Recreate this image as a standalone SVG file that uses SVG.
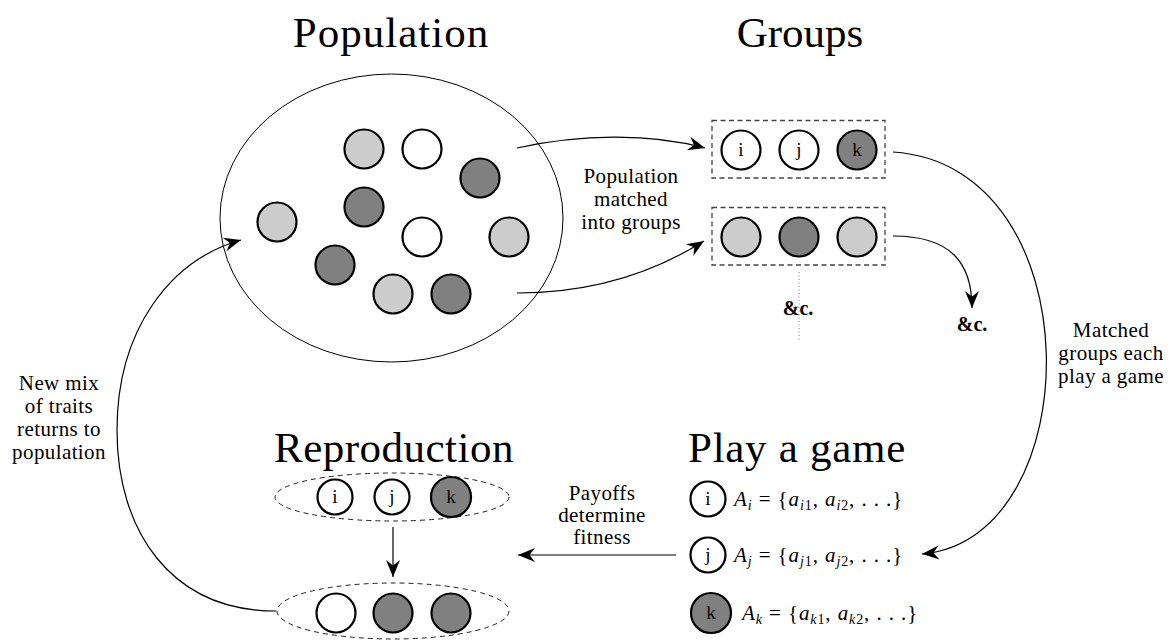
<svg xmlns="http://www.w3.org/2000/svg" width="1171" height="642" viewBox="0 0 1171 642" font-family="'Liberation Serif', 'DejaVu Serif', serif">
<style>
  text { font-family: "Liberation Serif", "DejaVu Serif", serif; fill: #000; }
  .title { font-size: 43px; text-anchor: middle; }
  .lbl { font-size: 21px; text-anchor: middle; letter-spacing: 0.4px; }
  .let { font-size: 19px; text-anchor: middle; }
  .etc { font-size: 20px; font-weight: bold; text-anchor: middle; }
  .math { font-size: 21px; }
  .it { font-style: italic; }
  .disk { stroke: #000; stroke-width: 2.2; }
  .W { fill: #fff; }
  .L { fill: #cccccc; }
  .D { fill: #808080; }
  .box { fill: none; stroke: #444; stroke-width: 1.3; stroke-dasharray: 5 3.5; }
  .dell { fill: none; stroke: #222; stroke-width: 1; stroke-dasharray: 5 4; }
  .con { fill: none; stroke: #000; stroke-width: 1.2; }
</style>
<defs>
  <marker id="arr" viewBox="-18 -8 19 16" refX="0" refY="0" markerWidth="19" markerHeight="16" markerUnits="userSpaceOnUse" orient="auto">
    <path d="M0,0 L-17,-7 L-11.5,0 L-17,7 Z" fill="#000"/>
  </marker>
</defs>

<g id="titles">
  <text class="title" x="391" y="47" letter-spacing="1">Population</text>
  <text class="title" x="800" y="47">Groups</text>
  <text class="title" x="394" y="462" letter-spacing="0.5">Reproduction</text>
  <text class="title" x="797" y="462" letter-spacing="0.7">Play a game</text>
</g>

<g id="population">
  <ellipse cx="391.5" cy="218" rx="171.5" ry="144" fill="none" stroke="#000" stroke-width="1"/>
  <circle class="disk L" cx="364" cy="149" r="19.5"/>
  <circle class="disk W" cx="422" cy="149" r="19.5"/>
  <circle class="disk D" cx="480" cy="178" r="19.5"/>
  <circle class="disk D" cx="364" cy="207" r="19.5"/>
  <circle class="disk L" cx="277" cy="222" r="19.5"/>
  <circle class="disk W" cx="422" cy="237" r="19.5"/>
  <circle class="disk L" cx="509" cy="237" r="19.5"/>
  <circle class="disk D" cx="335" cy="265" r="19.5"/>
  <circle class="disk L" cx="393" cy="294" r="19.5"/>
  <circle class="disk D" cx="451" cy="294" r="19.5"/>
</g>

<g id="group1">
  <rect class="box" x="712" y="120.5" width="173" height="57.5"/>
  <circle class="disk W" cx="741" cy="150" r="19.5"/>
  <circle class="disk W" cx="799" cy="150" r="19.5"/>
  <circle class="disk D" cx="857" cy="150" r="19.5"/>
  <text class="let" x="741" y="156">i</text>
  <text class="let" x="799" y="156">j</text>
  <text class="let" x="857" y="156">k</text>
</g>

<g id="group2">
  <rect class="box" x="712" y="207.5" width="173" height="57.5"/>
  <circle class="disk L" cx="741" cy="237" r="19.5"/>
  <circle class="disk D" cx="799" cy="237" r="19.5"/>
  <circle class="disk L" cx="857" cy="237" r="19.5"/>
</g>

<g id="more-groups">
  <line x1="799" y1="272" x2="799" y2="342" stroke="#777" stroke-width="1" stroke-dasharray="1 2.5"/>
  <text class="etc" x="798" y="315">&amp;c.</text>
  <text class="etc" x="972" y="331">&amp;c.</text>
</g>

<g id="play-game">
  <circle class="disk W" cx="708" cy="499" r="17.5"/>
  <circle class="disk W" cx="708" cy="555" r="17.5"/>
  <circle class="disk D" cx="711" cy="613" r="20"/>
  <text class="let" x="708" y="505">i</text>
  <text class="let" x="708" y="561">j</text>
  <text class="let" x="711" y="619">k</text>
  <text class="math" x="734" y="506" letter-spacing="0.9"><tspan class="it">A</tspan><tspan class="it" font-size="14" dy="4">i</tspan><tspan dy="-4"> = {</tspan><tspan class="it">a</tspan><tspan font-size="14" dy="4"><tspan class="it">i</tspan>1</tspan><tspan dy="-4">, </tspan><tspan class="it">a</tspan><tspan font-size="14" dy="4"><tspan class="it">i</tspan>2</tspan><tspan dy="-4">, . . .}</tspan></text>
  <text class="math" x="734" y="562" letter-spacing="0.9"><tspan class="it">A</tspan><tspan class="it" font-size="14" dy="4">j</tspan><tspan dy="-4"> = {</tspan><tspan class="it">a</tspan><tspan font-size="14" dy="4"><tspan class="it">j</tspan>1</tspan><tspan dy="-4">, </tspan><tspan class="it">a</tspan><tspan font-size="14" dy="4"><tspan class="it">j</tspan>2</tspan><tspan dy="-4">, . . .}</tspan></text>
  <text class="math" x="742" y="620" letter-spacing="0.9"><tspan class="it">A</tspan><tspan class="it" font-size="14" dy="4">k</tspan><tspan dy="-4"> = {</tspan><tspan class="it">a</tspan><tspan font-size="14" dy="4"><tspan class="it">k</tspan>1</tspan><tspan dy="-4">, </tspan><tspan class="it">a</tspan><tspan font-size="14" dy="4"><tspan class="it">k</tspan>2</tspan><tspan dy="-4">, . . .}</tspan></text>
</g>

<g id="repro-parents">
  <ellipse class="dell" cx="392" cy="497" rx="117" ry="24"/>
  <circle class="disk W" cx="335" cy="497" r="17.5"/>
  <circle class="disk W" cx="392" cy="497" r="17.5"/>
  <circle class="disk D" cx="451" cy="497" r="20"/>
  <text class="let" x="335" y="503">i</text>
  <text class="let" x="392" y="503">j</text>
  <text class="let" x="451" y="503">k</text>
</g>

<g id="repro-offspring">
  <ellipse class="dell" cx="393" cy="611" rx="116" ry="28"/>
  <circle class="disk W" cx="336" cy="613" r="19.5"/>
  <circle class="disk D" cx="393" cy="613" r="19.5"/>
  <circle class="disk D" cx="451" cy="613" r="19.5"/>
</g>

<g id="connectors">
  <path class="con" d="M 517 148 C 580 134, 650 133, 705 148" marker-end="url(#arr)"/>
  <path class="con" d="M 517 293 C 590 293, 650 275, 704 241" marker-end="url(#arr)"/>
  <path class="con" d="M 893 152 C 1095 165, 1090 540, 922 554" marker-end="url(#arr)"/>
  <path class="con" d="M 893 236 C 950 236, 972 262, 972 308" marker-end="url(#arr)"/>
  <path class="con" d="M 676 555 L 518 555" marker-end="url(#arr)"/>
  <path class="con" d="M 393 527 L 393 577" marker-end="url(#arr)"/>
  <path class="con" d="M 276 611 C 170 611, 117 530, 117 430 C 117 330, 170 260, 241 240" marker-end="url(#arr)"/>
</g>

<g id="labels">
  <text class="lbl" x="631" y="183">Population</text>
  <text class="lbl" x="631" y="206">matched</text>
  <text class="lbl" x="631" y="229">into groups</text>

  <text class="lbl" x="1111" y="337">Matched</text>
  <text class="lbl" x="1111" y="360">groups each</text>
  <text class="lbl" x="1111" y="383">play a game</text>

  <text class="lbl" x="602" y="500">Payoffs</text>
  <text class="lbl" x="602" y="522">determine</text>
  <text class="lbl" x="602" y="544">fitness</text>

  <text class="lbl" x="59" y="390">New mix</text>
  <text class="lbl" x="59" y="413">of traits</text>
  <text class="lbl" x="59" y="436">returns to</text>
  <text class="lbl" x="59" y="459">population</text>
</g>
</svg>
